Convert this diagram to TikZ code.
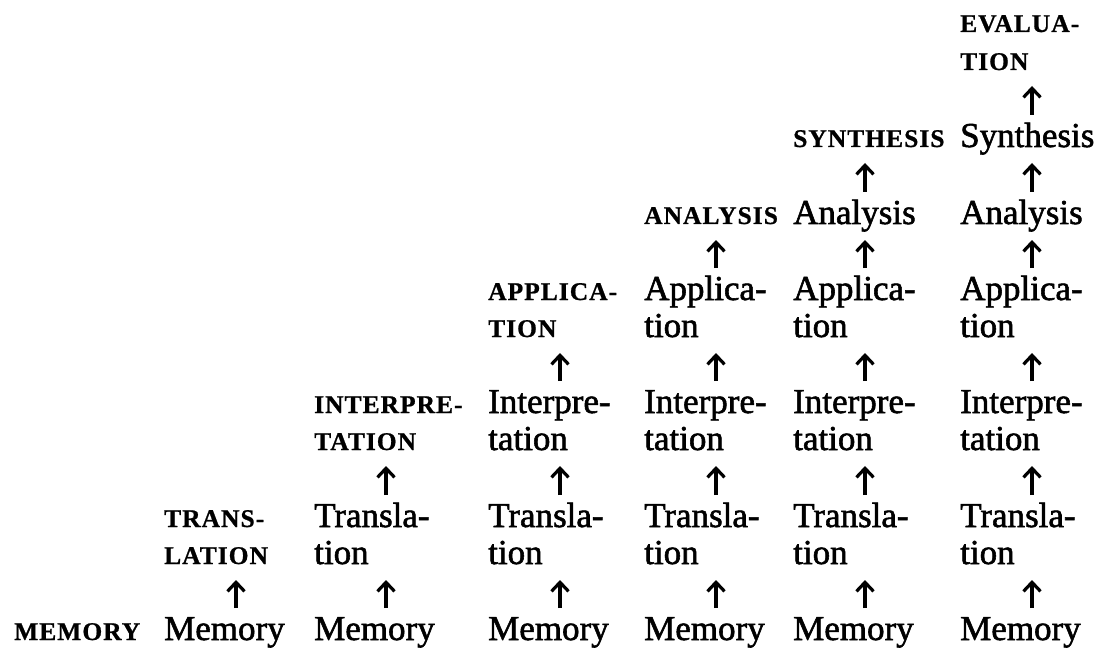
\documentclass[tikz,border=0pt]{standalone}
\usepackage{fontspec}
\setmainfont{Liberation Serif}
\newfontfamily\wordfont[FakeBold=1.6]{Liberation Serif}
\newfontfamily\stagefont[LetterSpace=4,FakeBold=0.8]{Liberation Serif Bold}
\usetikzlibrary{arrows.meta}
\tikzset{
  word/.style={anchor=base west, inner sep=0pt, font=\wordfont\fontsize{35}{35}\selectfont},
  stage/.style={anchor=base west, inner sep=0pt, font=\stagefont\fontsize{25.5}{25.5}\selectfont},
  rise/.style={line width=3.2pt, -{Straight Barb[length=9pt,width=17pt]}}
}
\begin{document}
\begin{tikzpicture}[x=1pt,y=1pt]
\useasboundingbox (0,0) rectangle (1110,649);

% row 0: memory
\node[stage] (a0-0) [alias=b0-0] at (14,9) {MEMORY};
\foreach \c/\x in {1/164,2/314,3/488,4/644,5/793,6/960}
  \node[word] (a0-\c) [alias=b0-\c] at (\x,9) {Memory};

% row 1: translation
\node[stage] (a1-1) at (164,122) {TRANS-};
\node[stage] (b1-1) at (164,85) {LATION};
\foreach \c/\x in {2/314,3/488,4/644,5/793,6/960}{
  \node[word] (a1-\c) at (\x,122) {Transla-};
  \node[word] (b1-\c) at (\x,85) {tion};
}

% row 2: interpretation
\node[stage] (a2-2) at (314,236) {INTERPRE-};
\node[stage] (b2-2) at (314,199) {TATION};
\foreach \c/\x in {3/488,4/644,5/793,6/960}{
  \node[word] (a2-\c) at (\x,236) {Interpre-};
  \node[word] (b2-\c) at (\x,199) {tation};
}

% row 3: application
\node[stage] (a3-3) at (488,349) {APPLICA-};
\node[stage] (b3-3) at (488,312) {TION};
\foreach \c/\x in {4/644,5/793,6/960}{
  \node[word] (a3-\c) at (\x,349) {Applica-};
  \node[word] (b3-\c) at (\x,312) {tion};
}

% row 4: analysis
\node[stage] (a4-4) [alias=b4-4] at (644,425) {ANALYSIS};
\foreach \c/\x in {5/793,6/960}
  \node[word] (a4-\c) [alias=b4-\c] at (\x,425) {Analysis};

% row 5: synthesis
\node[stage] (a5-5) [alias=b5-5] at (793,502) {SYNTHESIS};
\node[word] (a5-6) [alias=b5-6] at (960,502) {Synthesis};

% row 6: evaluation
\node[stage] (a6-6) at (960,617) {EVALUA-};
\node[stage] (b6-6) at (960,579) {TION};

% arrows up each column, from every level to the next
\foreach \c in {1,...,6}{
  \pgfmathtruncatemacro\top{\c-1}
  \foreach \r in {0,...,\top}{
    \pgfmathtruncatemacro\s{\r+1}
    \draw[rise] ([shift={(72,32)}]a\r-\c.base west) -- ([shift={(72,-16)}]b\s-\c.base west);
  }
}
\end{tikzpicture}
\end{document}
